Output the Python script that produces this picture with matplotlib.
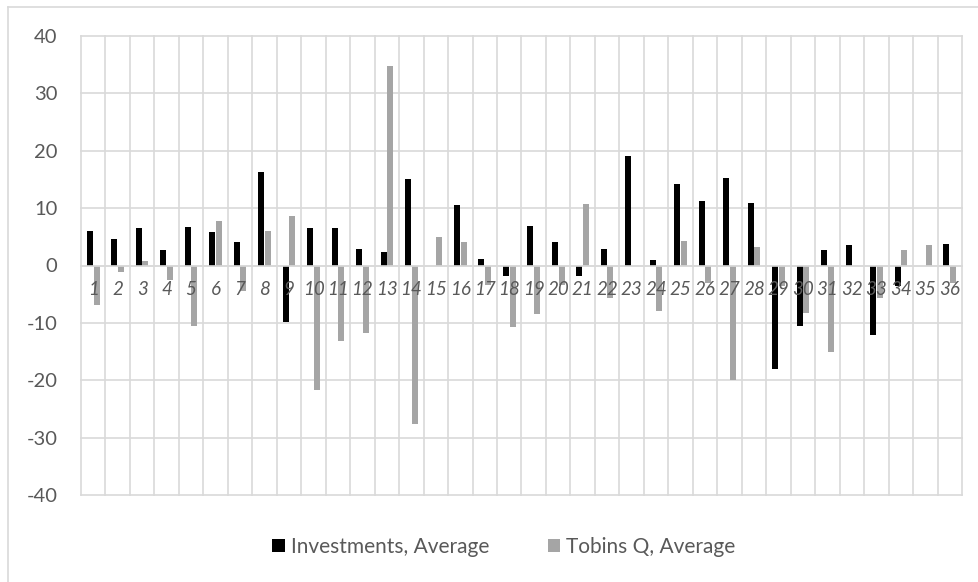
import numpy as np
import matplotlib
matplotlib.use("Agg")
import matplotlib.pyplot as plt
from matplotlib.lines import Line2D

# values
categories = [str(i) for i in range(1, 37)]
investments = [6.0, 4.6, 6.5, 2.7, 6.7, 5.8, 4.1, 16.3, -9.8, 6.5,
               6.5, 2.9, 2.4, 15.1, 0.0, 10.5, 1.1, -1.9, 6.9, 4.1,
               -1.9, 2.9, 19.0, 0.9, 14.2, 11.3, 15.3, 10.9, -18.1, -10.5,
               2.7, 3.6, -12.1, -3.6, 0.0, 3.7]
tobins_q = [-6.8, -1.2, 0.8, -2.5, -10.5, 7.7, -4.5, 6.0, 8.7, -21.7,
            -13.1, -11.8, 34.7, -27.6, 5.0, 4.1, -3.4, -10.8, -8.4, -3.4,
            10.8, -5.6, 0.0, -8.0, 4.3, -3.0, -19.9, 3.3, -3.6, -8.2,
            -15.0, 0.0, -5.7, 2.7, 3.5, -3.0]
yticks = [-40, -30, -20, -10, 0, 10, 20, 30, 40]

W, H = 979, 582
fig = plt.figure(figsize=(W / 100, H / 100), dpi=100)
ax = fig.add_axes([81 / W, 1 - 495 / H, (962 - 81) / W, (495 - 36) / H])

grid_c = "#d9d9d9"
text_c = "#595959"

# move the category axis to zero first: set_position resets the ticks
for s in ["top", "right", "left"]:
    ax.spines[s].set_visible(False)
ax.spines["bottom"].set_position(("data", 0))
ax.spines["bottom"].set_color(grid_c)
ax.spines["bottom"].set_linewidth(1.2)

x = np.arange(1, len(categories) + 1)
bw = 0.245
ax.bar(x - 0.135, investments, bw, color="black", label="Investments, Average", zorder=1)
ax.bar(x + 0.135, tobins_q, bw, color="#a5a5a5", label="Tobins Q, Average", zorder=1)

ax.set_xlim(0.5, len(categories) + 0.5)
ax.set_ylim(-40, 40)

# gridlines drawn by hand below the bars, so the axis labels can sit on top
for v in yticks:
    ax.axhline(v, color=grid_c, linewidth=1.2, zorder=0, clip_on=False)
for b in np.arange(0.5, len(categories) + 1, 1):
    ax.axvline(b, color=grid_c, linewidth=1.2, zorder=0, clip_on=False)

ax.tick_params(axis="x", length=0, pad=11, labelsize=13.5, labelcolor=text_c)
ax.tick_params(axis="y", length=0, pad=17, labelsize=14.5, labelcolor=text_c)
ax.set_yticks(yticks)
ax.set_yticklabels([str(v) for v in yticks], family="Lato")
ax.set_xticks(x)
ax.set_xticklabels(categories, family="Lato", style="italic")
ax.set_axisbelow(False)

leg = fig.legend(loc="center", bbox_to_anchor=(504 / W, 1 - 547 / H), ncol=2,
                 frameon=False, handlelength=0.6, handleheight=0.6, handletextpad=0.3,
                 columnspacing=2.8, prop={"family": "Lato", "size": 15})
for t in leg.get_texts():
    t.set_color(text_c)

# chart frame (top and left edges visible in the crop)
fig.add_artist(Line2D([8 / W, 8 / W], [0, 1 - 7 / H], color=grid_c, linewidth=1.2))
fig.add_artist(Line2D([8 / W, 1], [1 - 7 / H, 1 - 7 / H], color=grid_c, linewidth=1.2))

fig.savefig("out.png", dpi=100)
